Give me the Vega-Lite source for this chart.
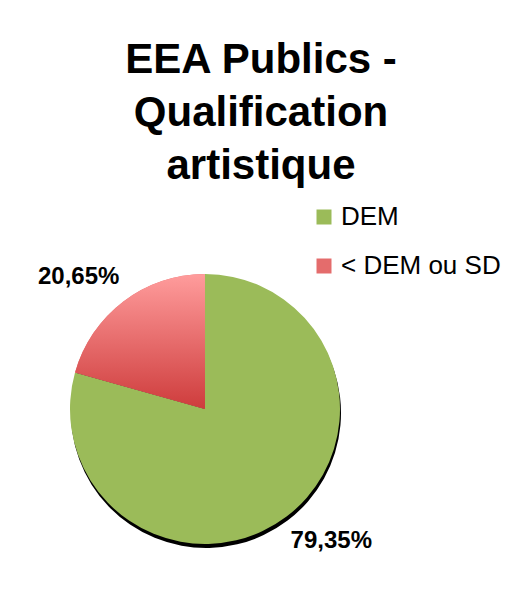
{
  "$schema": "https://vega.github.io/schema/vega-lite/v6.json",
  "autosize": {"type": "none"},
  "width": 270,
  "height": 270,
  "padding": {"left": 70, "top": 274, "right": 177, "bottom": 54},
  "background": "white",
  "title": {
    "text": ["EEA Publics -", "Qualification", "artistique"],
    "font": "Liberation Sans",
    "fontSize": 42,
    "fontWeight": "bold",
    "lineHeight": 53,
    "color": "#000000",
    "anchor": "middle",
    "dx": 56,
    "offset": 16
  },
  "data": {
    "values": [
      {"cat": "DEM", "value": 79.35, "ord": 1, "label": "79,35%"},
      {"cat": "< DEM ou SD", "value": 20.65, "ord": 2, "label": "20,65%"}
    ]
  },
  "config": {
    "view": {"stroke": null},
    "legend": {
      "orient": "none",
      "legendX": 241,
      "legendY": -70,
      "title": null,
      "symbolType": "square",
      "symbolSize": 225,
      "symbolStrokeWidth": 0,
      "labelFont": "Liberation Sans",
      "labelFontSize": 26,
      "labelColor": "#000000",
      "labelOffset": 4,
      "rowPadding": 23,
      "labelLimit": 300
    }
  },
  "layer": [
    {
      "mark": {"type": "arc", "fill": "#000000", "yOffset": 4, "xOffset": 1},
      "encoding": {
        "theta": {"field": "value", "type": "quantitative", "stack": true},
        "order": {"field": "ord", "type": "quantitative"}
      }
    },
    {
      "mark": {"type": "arc"},
      "encoding": {
        "theta": {"field": "value", "type": "quantitative", "stack": true},
        "order": {"field": "ord", "type": "quantitative"},
        "color": {
          "field": "cat",
          "type": "nominal",
          "scale": {"domain": ["DEM", "< DEM ou SD"], "range": ["#9BBB59", "#E46C6C"]},
          "legend": {}
        }
      }
    },
    {
      "mark": {"type": "arc"},
      "encoding": {
        "theta": {"field": "value", "type": "quantitative", "stack": true},
        "order": {"field": "ord", "type": "quantitative"},
        "fill": {
          "condition": {
            "test": "datum.cat === '< DEM ou SD'",
            "value": {
              "gradient": "linear",
              "x1": 0, "y1": 0, "x2": 0, "y2": 1,
              "stops": [
                {"offset": 0, "color": "#FF9C9C"},
                {"offset": 1, "color": "#CE3C3C"}
              ]
            }
          },
          "value": "transparent"
        }
      }
    },
    {
      "mark": {
        "type": "text",
        "radius": 183,
        "thetaOffset": -0.113,
        "font": "Liberation Sans",
        "fontSize": 24,
        "fontWeight": "bold",
        "color": "#000000"
      },
      "encoding": {
        "theta": {"field": "value", "type": "quantitative", "stack": true},
        "order": {"field": "ord", "type": "quantitative"},
        "text": {"field": "label", "type": "nominal"}
      }
    }
  ]
}
